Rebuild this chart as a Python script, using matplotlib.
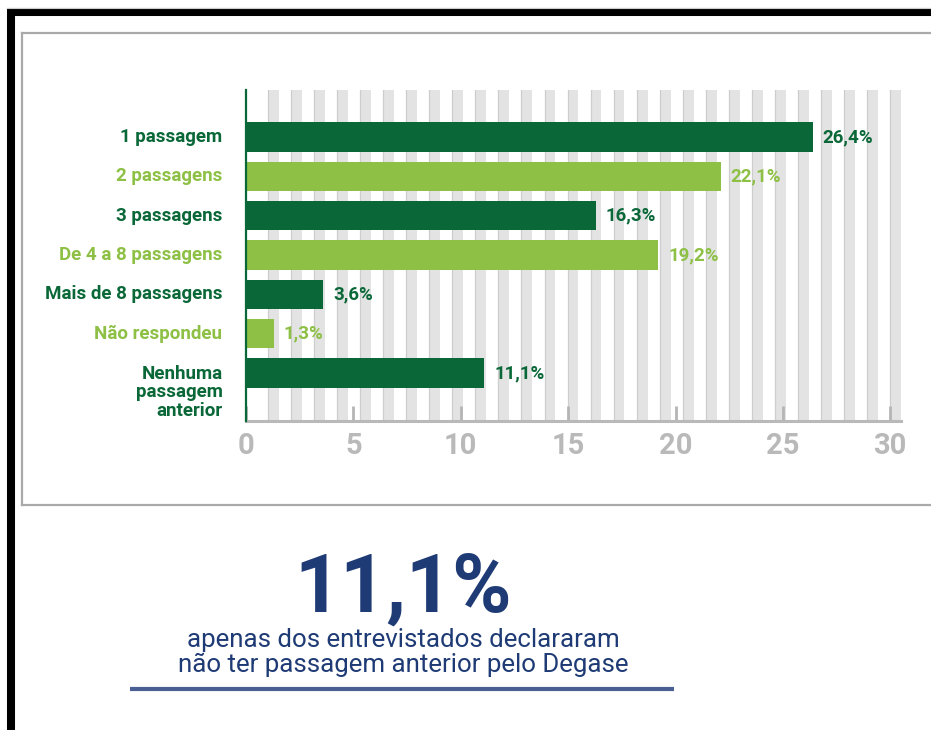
import numpy as np
import matplotlib
matplotlib.use("Agg")
import matplotlib.pyplot as plt
from matplotlib.lines import Line2D
import matplotlib.transforms as mtransforms

categories = ["1 passagem", "2 passagens", "3 passagens", "De 4 a 8 passagens",
              "Mais de 8 passagens", "Não respondeu", "Nenhuma\npassagem\nanterior"]
values = [26.4, 22.1, 16.3, 19.2, 3.6, 1.3, 11.1]
xticks = [0, 5, 10, 15, 20, 25, 30]
headline = "11,1%"
subtitle = "apenas dos entrevistados declararam\nnão ter passagem anterior pelo Degase"

DARK = "#0a6838"
LIGHT = "#8dc044"
NAVY = "#1f3b75"
colors = [DARK if i % 2 == 0 else LIGHT for i in range(len(values))]

plt.rcParams['font.family'] = ['Roboto', 'DejaVu Sans']

W, H = 931, 730
fig = plt.figure(figsize=(W / 100, H / 100), dpi=100)

def fx(px): return px / W
def fy(py): return 1 - py / H

# Outer frame
fig.add_artist(Line2D([fx(7), fx(931)], [fy(12), fy(12)], color="black", lw=5.8, solid_capstyle="butt"))
fig.add_artist(Line2D([fx(11), fx(11)], [fy(8), fy(730)], color="black", lw=5.8, solid_capstyle="butt"))
fig.add_artist(Line2D([fx(7), fx(931)], [fy(7.5), fy(7.5)], color="#cccccc", lw=0.8))
box_c = "#a9a9a9"
fig.add_artist(Line2D([fx(22), fx(931)], [fy(33), fy(33)], color=box_c, lw=1.6))
fig.add_artist(Line2D([fx(22), fx(22)], [fy(33), fy(505)], color=box_c, lw=1.6))
fig.add_artist(Line2D([fx(22), fx(931)], [fy(505), fy(505)], color=box_c, lw=1.6))

# Axes
left, right, top, bottom = 246, 901, 90, 421
ax = fig.add_axes([fx(left), fy(bottom), (right - left) / W, (bottom - top) / H])
ax.set_xlim(0, 30.5)
n = len(values)
ax.set_ylim(n - 1 + 1.22, -1.195)

for x0 in np.arange(1.02, 30.2, 1.0735):
    ax.axvspan(x0, x0 + 0.5, color="#e3e3e3", zorder=0, lw=0)
    ax.axvline(x0, color="#cdcdcd", lw=0.9, zorder=0.5)

y = np.arange(n)
ax.barh(y, values, height=0.74, color=colors, zorder=2)

for i, v in enumerate(values):
    ax.annotate(f"{v:.1f}%".replace(".", ","), xy=(v, i), xytext=(7, 0),
                textcoords="offset points", va="center", ha="left",
                fontsize=13.5, fontweight="bold", color=colors[i])

ax.set_yticks([])
trans = mtransforms.blended_transform_factory(ax.transAxes, ax.transData)
for i, lab in enumerate(categories):
    multi = "\n" in lab
    ax.annotate(lab, xy=(0, i), xycoords=trans,
                xytext=(-17, 6 if multi else 0), textcoords="offset points",
                ha="right", va="top" if multi else "center",
                multialignment="right", linespacing=1.03,
                fontsize=13.5, fontweight="bold", color=colors[i])

ax.set_xticks(xticks)
ax.set_xticklabels([str(t) for t in xticks], fontsize=21, fontweight="bold", color="#b9b9b9")
ax.tick_params(axis="x", direction="in", length=11, width=2, color="#b5b5b5", pad=8)

for s in ["top", "right"]:
    ax.spines[s].set_visible(False)
ax.spines["bottom"].set_color("#b9b9b9")
ax.spines["bottom"].set_linewidth(2.2)
ax.spines["left"].set_color(DARK)
ax.spines["left"].set_linewidth(1.6)
ax.spines["left"].set_zorder(3)
ax.set_facecolor("none")

# Bottom text
fig.text(fx(403), fy(612), headline, ha="center", va="baseline",
         fontsize=58, fontweight="bold", color=NAVY)
fig.text(fx(403), fy(672), subtitle, ha="center", va="baseline",
         fontsize=18.6, color=NAVY, linespacing=1.02)
fig.add_artist(Line2D([fx(130), fx(674)], [fy(689), fy(689)], color="#4a5f92", lw=3, solid_capstyle="butt"))

fig.savefig("out.png", dpi=100)
